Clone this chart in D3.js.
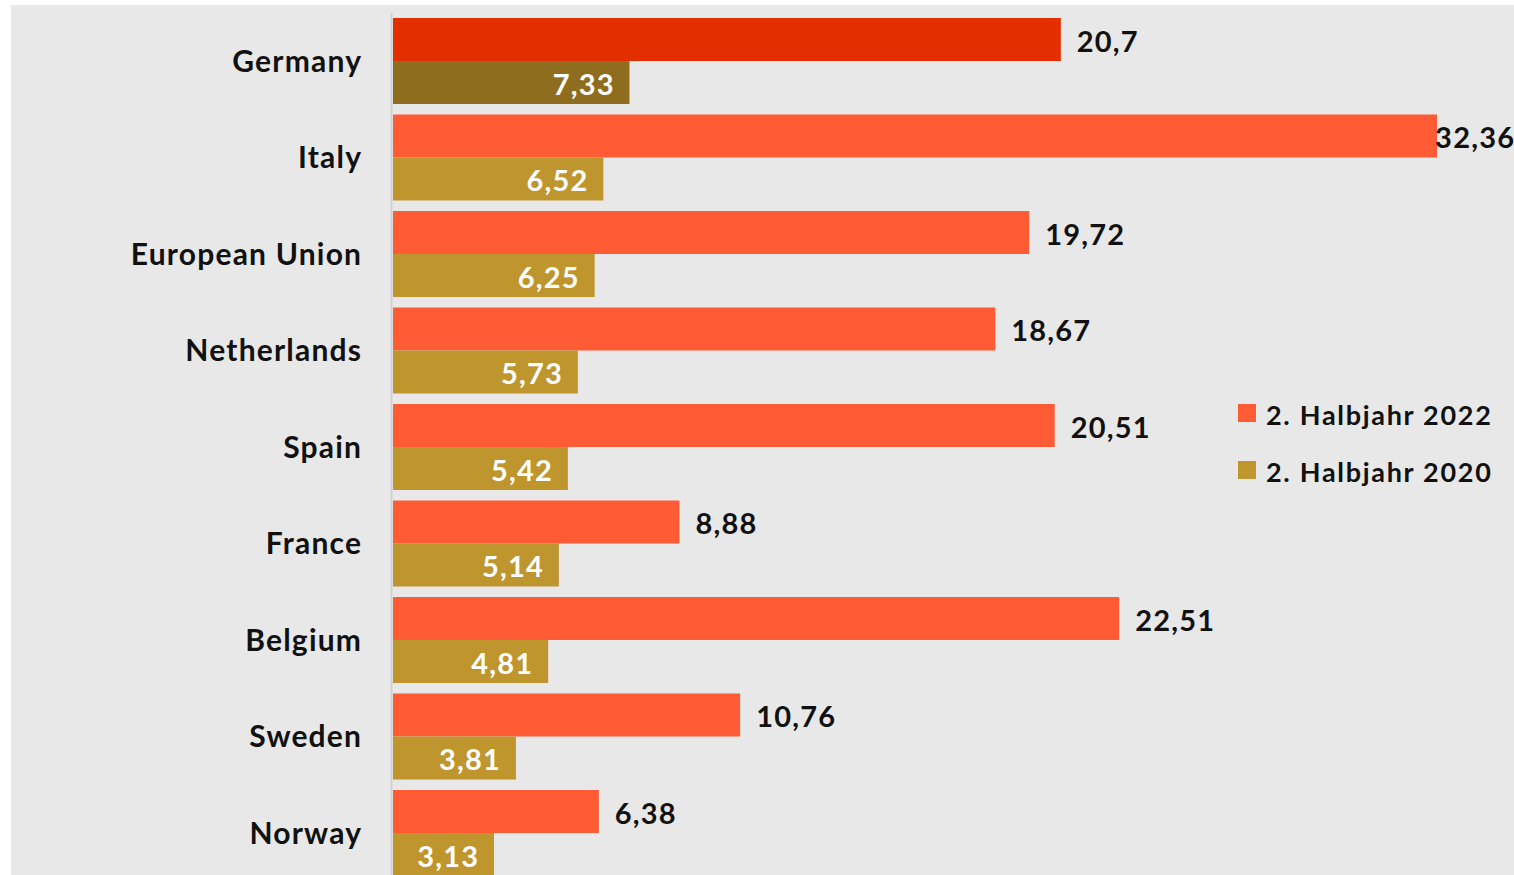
<!DOCTYPE html>
<html><head><meta charset="utf-8">
<script src="https://cdn.jsdelivr.net/npm/d3@7"></script>
<style>
html,body{margin:0;padding:0;background:#fff;}
svg{display:block;font-family:Lato, "Open Sans", sans-serif;font-weight:700;}
</style></head>
<body>
<svg id="c" width="1514" height="875"></svg>
<script>
const categories = ["Germany","Italy","European Union","Netherlands","Spain","France","Belgium","Sweden","Norway"];
const series = ["2. Halbjahr 2022","2. Halbjahr 2020"];
const values2022 = [20.7,32.36,19.72,18.67,20.51,8.88,22.51,10.76,6.38];
const values2020 = [7.33,6.52,6.25,5.73,5.42,5.14,4.81,3.81,3.13];
const labels2022 = ["20,7","32,36","19,72","18,67","20,51","8,88","22,51","10,76","6,38"];
const labels2020 = ["7,33","6,52","6,25","5,73","5,42","5,14","4,81","3,81","3,13"];
const highlight = "Germany";

const colors = {"2. Halbjahr 2022":"#ff5b35","2. Halbjahr 2020":"#bf952d"};
const hiColors = {"2. Halbjahr 2022":"#e32f00","2. Halbjahr 2020":"#8e6d1f"};

const W = 1514, H = 875;
const LS = 1.2;
const svg = d3.select("#c");
svg.append("rect").attr("x",11).attr("y",5).attr("width",W-11).attr("height",H-5).attr("fill","#e8e8e8");

const x = d3.scaleLinear().domain([0, 32.36]).range([393, 1437]);
const y = d3.scaleBand().domain(categories).range([18, 876]).paddingInner(0.109).paddingOuter(0);
const ys = d3.scaleBand().domain(series).range([0, y.bandwidth()]);

const rows = categories.map((c,i)=>({cat:c, vals:[
  {s:series[0], v:values2022[i], l:labels2022[i]},
  {s:series[1], v:values2020[i], l:labels2020[i]}
]}));

svg.append("line").attr("x1",391.5).attr("x2",391.5).attr("y1",13).attr("y2",H).attr("stroke","#d2d2d2").attr("stroke-width",2);

const g = svg.selectAll("g.row").data(rows).join("g").attr("class","row")
  .attr("transform",d=>`translate(0,${y(d.cat)})`);

g.selectAll("rect").data(d=>d.vals.map(v=>({...v,cat:d.cat}))).join("rect")
  .attr("x",x(0)).attr("y",d=>ys(d.s)).attr("width",d=>x(d.v)-x(0)).attr("height",ys.bandwidth())
  .attr("fill",d=>d.cat===highlight?hiColors[d.s]:colors[d.s]);

g.append("text").attr("x",361+LS).attr("y",y.bandwidth()/2-1).attr("text-anchor","end")
  .attr("dominant-baseline","central").attr("font-size",30).attr("letter-spacing",LS).attr("fill","#111").text(d=>d.cat);

g.each(function(d){
  const gg = d3.select(this);
  const a = d.vals[0];
  const t = gg.append("text").attr("font-size",29).attr("letter-spacing",LS).attr("fill","#111").attr("dominant-baseline","central")
    .attr("y",ys(a.s)+ys.bandwidth()/2+1).text(a.l);
  const tw = t.node().getComputedTextLength();
  let tx = x(a.v)+16;
  if (tx+tw > W) { t.attr("x",W+LS).attr("text-anchor","end"); } else { t.attr("x",tx); }
  const b = d.vals[1];
  gg.append("text").attr("font-size",29).attr("letter-spacing",LS).attr("fill","#fff").attr("dominant-baseline","central")
    .attr("text-anchor","end").attr("x",x(b.v)-16+LS).attr("y",ys(b.s)+ys.bandwidth()/2+1).text(b.l);
});

const leg = svg.append("g").selectAll("g").data(series).join("g")
  .attr("transform",(d,i)=>`translate(1238,${404+i*57})`);
leg.append("rect").attr("width",18).attr("height",18).attr("fill",d=>colors[d]);
leg.append("text").attr("x",28).attr("y",10).attr("dominant-baseline","central").attr("font-size",27).attr("letter-spacing",1.7).attr("fill","#111").text(d=>d);
</script>
</body></html>
